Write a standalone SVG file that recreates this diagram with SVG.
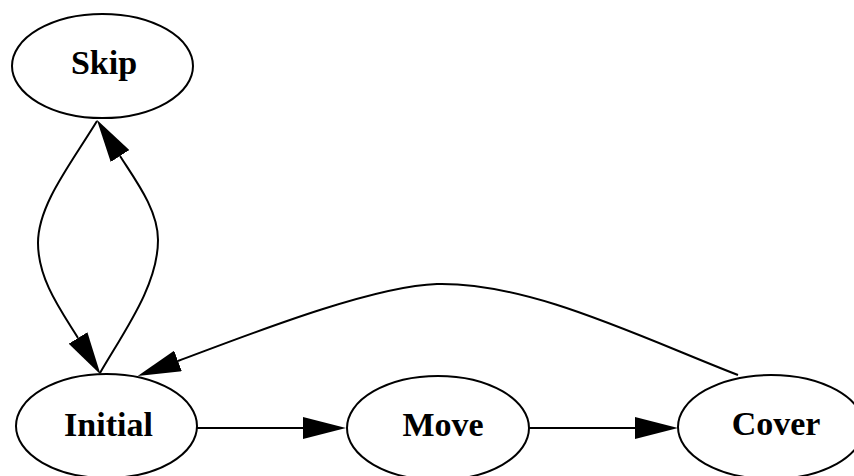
<svg xmlns="http://www.w3.org/2000/svg" width="854" height="476" viewBox="0 0 854 476">
<style>
.node ellipse{fill:#fff;stroke:#000;stroke-width:2}
.node text{font-family:"Liberation Serif","DejaVu Serif",serif;font-weight:bold;font-size:34px;text-anchor:middle;fill:#000}
.edge{fill:none;stroke:#000;stroke-width:2;marker-end:url(#arr)}
</style>
<defs>
<marker id="arr" markerUnits="userSpaceOnUse" markerWidth="44" markerHeight="22" viewBox="0 0 44 22" refX="0" refY="11" orient="auto">
<path d="M0,0 L43,11 L0,22 z" fill="#000"/>
</marker>
</defs>
<rect width="854" height="476" fill="#fff"/>
<g id="connectors">
<path class="edge" d="M97,121 C70,165 38,205 38,243 C38,280 62,312 78,338"/>
<path class="edge" d="M100,373 C125,330 158,285 158,240 C158,210 136,181 120,156"/>
<path class="edge" d="M738,375 C640,337 530,282 437,284 C370,286 240,338 178,361"/>
<path class="edge" d="M197,428 L303,428"/>
<path class="edge" d="M529,428 L635,428"/>
</g>
<g id="Skip" class="node"><ellipse cx="102.5" cy="66" rx="90.5" ry="52"/><text x="104" y="74">Skip</text></g>
<g id="Initial" class="node"><ellipse cx="106.5" cy="426" rx="90.5" ry="52"/><text x="108.5" y="436">Initial</text></g>
<g id="Move" class="node"><ellipse cx="438" cy="428" rx="91" ry="52"/><text x="443" y="436">Move</text></g>
<g id="Cover" class="node"><ellipse cx="771" cy="427" rx="93" ry="52"/><text x="776" y="435">Cover</text></g>
</svg>
